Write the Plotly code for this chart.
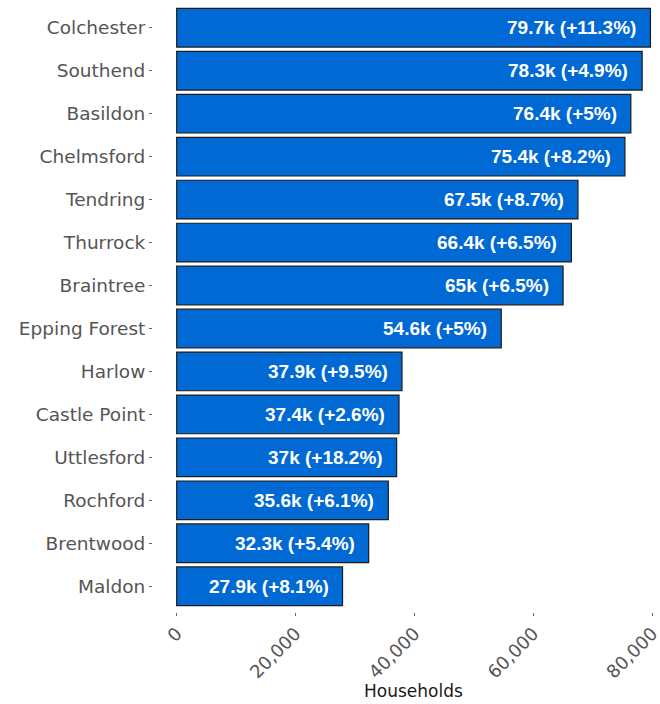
import plotly.graph_objects as go

areas = ["Colchester", "Southend", "Basildon", "Chelmsford", "Tendring", "Thurrock",
         "Braintree", "Epping Forest", "Harlow", "Castle Point", "Uttlesford",
         "Rochford", "Brentwood", "Maldon"]
households = [79700, 78300, 76400, 75400, 67500, 66400, 65000, 54600,
              37900, 37400, 37000, 35600, 32300, 27900]
labels = ["79.7k (+11.3%)", "78.3k (+4.9%)", "76.4k (+5%)", "75.4k (+8.2%)",
          "67.5k (+8.7%)", "66.4k (+6.5%)", "65k (+6.5%)", "54.6k (+5%)",
          "37.9k (+9.5%)", "37.4k (+2.6%)", "37k (+18.2%)", "35.6k (+6.1%)",
          "32.3k (+5.4%)", "27.9k (+8.1%)"]
x_ticks = [0, 20000, 40000, 60000, 80000]
x_tick_text = ["0", "20,000", "40,000", "60,000", "80,000"]

fig = go.Figure()
fig.add_trace(go.Bar(
    x=households, y=areas, orientation="h",
    marker=dict(color="#0069D4", line=dict(color="#1c1c1c", width=1.2)),
    width=0.9, hoverinfo="skip",
))

for v, a, t in zip(households, areas, labels):
    fig.add_annotation(x=v, y=a, xref="x", yref="y", text=t, showarrow=False,
                       xanchor="right", xshift=-12,
                       font=dict(family="Liberation Sans", size=19, color="white", weight="bold"))

fig.add_annotation(x=39850, xref="x", y=0, yref="paper", yshift=-79, text="Households",
                   showarrow=False, yanchor="middle",
                   font=dict(family="DejaVu Sans", size=17, color="#1a1a1a"))

fig.update_layout(
    width=660, height=704,
    margin=dict(l=153, r=3, t=2, b=92),
    paper_bgcolor="white", plot_bgcolor="white",
    showlegend=False,
    font=dict(family="DejaVu Sans"),
)
fig.update_xaxes(
    range=[-3985, 80800], tickvals=x_ticks, ticktext=x_tick_text,
    tickangle=-45, ticks="outside", ticklen=3, tickcolor="#666",
    tickfont=dict(family="DejaVu Sans", size=18, color="#555555"),
    ticklabeloverflow="allow",
    showgrid=False, zeroline=False, showline=False, automargin=False,
)
fig.update_yaxes(
    autorange=False, range=[13.6, -0.6], categoryorder="array", categoryarray=areas,
    ticks="outside", ticklen=3, tickcolor="#666",
    tickfont=dict(family="DejaVu Sans", size=18.5, color="#555555"),
    showgrid=False, zeroline=False, showline=False, automargin=False,
)

fig.write_html("out.html", config={"displayModeBar": False},
               post_script="document.body.style.margin='0';")
